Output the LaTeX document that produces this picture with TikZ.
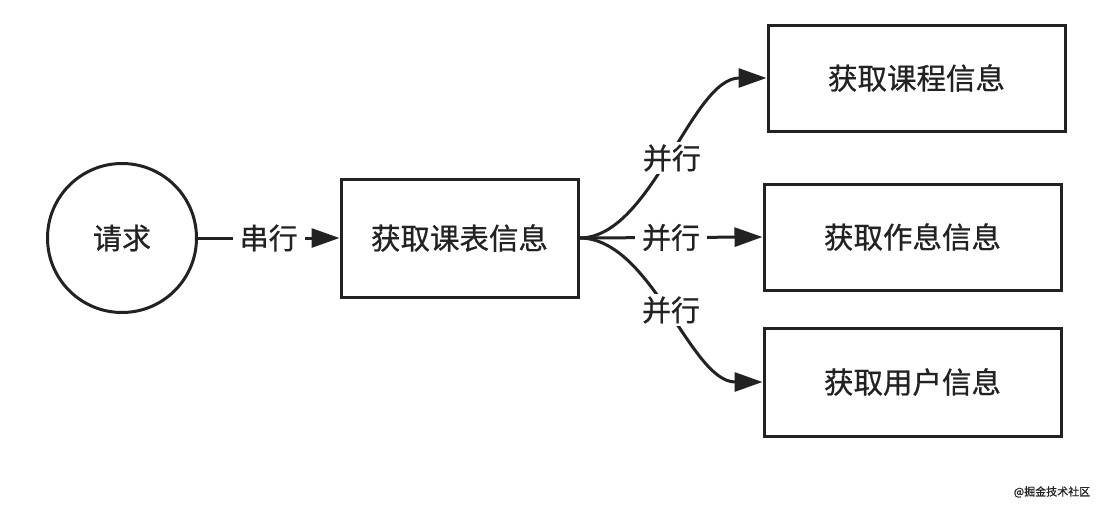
\documentclass[tikz,border=0pt]{standalone}
\usepackage{fontspec}
\setmainfont[FakeBold=0.7]{Noto Sans CJK SC}
\usetikzlibrary{arrows.meta}
\definecolor{ink}{HTML}{222222}
\begin{document}
\begin{tikzpicture}[x=1pt,y=-1pt,
  box/.style={draw=ink,line width=3pt,minimum width=#1,minimum height=106pt,inner sep=0pt,font=\fontsize{29.5}{32}\selectfont,text=ink},
  conn/.style={draw=ink,line width=3pt,-{Triangle[length=28pt,width=19pt]}},
  lbl/.style={fill=white,inner xsep=7pt,inner ysep=3pt,font=\fontsize{29}{32}\selectfont,text=ink}]
\useasboundingbox[fill=white] (0,0) rectangle (1100,506);
\node[circle,draw=ink,line width=3pt,minimum size=149pt,inner sep=0pt,font=\fontsize{29}{32}\selectfont,text=ink] (req) at (122,238) {请求};
\node[box=237pt,minimum height=118pt] (kb) at (459.5,238) {获取课表信息};
\node[box=297pt] (kc) at (916.5,78) {获取课程信息};
\node[box=297pt] (zx) at (912.5,237) {获取作息信息};
\node[box=297pt,minimum height=108pt] (yh) at (912.5,382) {获取用户信息};
\draw[conn] (req.east) -- node[lbl] (l0) {串行} (kb.west);
\draw[conn] (kb.east) .. controls +(72pt,0) and +(-75pt,0) .. node[lbl,pos=0.5] (l1) {并行} (kc.west);
\draw[conn] (kb.east) -- node[lbl,pos=0.5] (l2) {并行} (zx.west);
\draw[conn] (kb.east) .. controls +(72pt,0) and +(-72pt,0) .. node[lbl,pos=0.5] (l3) {并行} (yh.west);
\node[font=\fontsize{11}{12}\selectfont,text=ink] (wm) at (1052,492) {@掘金技术社区};
\end{tikzpicture}
\end{document}
